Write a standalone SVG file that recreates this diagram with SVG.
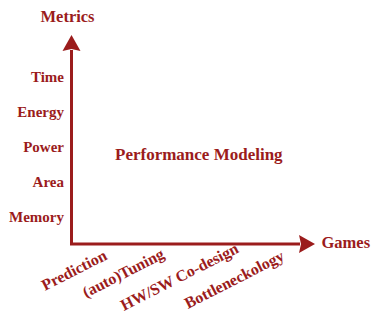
<svg xmlns="http://www.w3.org/2000/svg" width="382" height="328" viewBox="0 0 382 328">
<style>
  text { font-family: "Liberation Serif", "Times New Roman", serif; font-weight: bold; fill: #9b1c1c; }
  .axis { stroke: #9b1c1c; stroke-width: 3; fill: none; }
  .ylab { font-size: 15px; text-anchor: end; }
  .xlab { font-size: 16px; }
</style>
<g id="connectors">
  <polyline class="axis" points="71.5,50 71.5,244 300,244"/>
  <path d="M71.5,35 L80.5,51 L71.5,49 L62.5,51 Z" fill="#9b1c1c"/>
  <path d="M315,244 L299,235 L301,244 L299,253 Z" fill="#9b1c1c"/>
</g>
<g id="metrics"><text x="40.5" y="22" font-size="16.5">Metrics</text></g>
<g id="games"><text x="321.5" y="248" font-size="16.5">Games</text></g>
<g id="time"><text class="ylab" x="64" y="82">Time</text></g>
<g id="energy"><text class="ylab" x="64" y="117">Energy</text></g>
<g id="power"><text class="ylab" x="64" y="152">Power</text></g>
<g id="area"><text class="ylab" x="64" y="187">Area</text></g>
<g id="memory"><text class="ylab" x="64" y="222">Memory</text></g>
<g id="perf"><text x="115" y="160" font-size="17">Performance Modeling</text></g>
<g id="prediction"><text class="xlab" transform="translate(45,291) rotate(-27)">Prediction</text></g>
<g id="autotuning"><text class="xlab" transform="translate(86,298) rotate(-27)">(auto)Tuning</text></g>
<g id="hwsw"><text class="xlab" transform="translate(124,311) rotate(-27)">HW/SW Co-design</text></g>
<g id="bottleneckology"><text class="xlab" transform="translate(188,309) rotate(-27)">Bottleneckology</text></g>
</svg>
